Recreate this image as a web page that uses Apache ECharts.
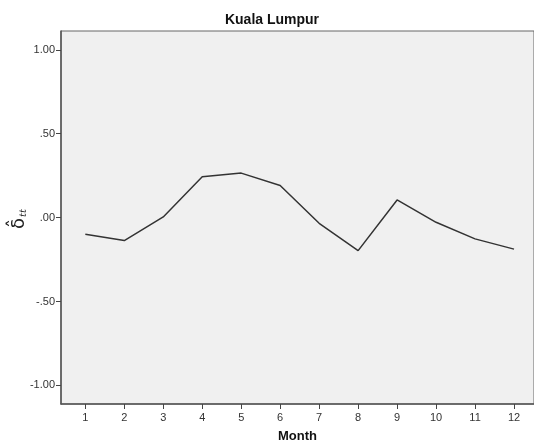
<!DOCTYPE html>
<html><head><meta charset="utf-8">
<script src="https://cdn.jsdelivr.net/npm/echarts@6/dist/echarts.min.js"></script>
<style>html,body{margin:0;padding:0;background:#fff}#c{width:534px;height:441px}</style>
</head><body><div id="c"></div>
<script>
const months = [1,2,3,4,5,6,7,8,9,10,11,12];
const values = [-0.099,-0.137,0.004,0.243,0.265,0.191,-0.034,-0.197,0.105,-0.028,-0.127,-0.188];
const yTicks = [-1, -0.5, 0, 0.5, 1];
const yTickLabels = {'-1':'-1.00','-0.5':'-.50','0':'.00','0.5':'.50','1':'1.00'};
const title = 'Kuala Lumpur';
const xName = 'Month';

const chart = echarts.init(document.getElementById('c'), null, {renderer:'canvas'});
chart.setOption({
  animation:false,
  backgroundColor:'#fff',
  title:{text:title,left:267,top:8,textAlign:'center',textStyle:{fontFamily:'Liberation Sans, Arial',fontSize:14,fontWeight:'bold',color:'#111'}},
  grid:{left:61,top:31,width:473,height:373,containLabel:false,outerBoundsMode:'none',show:true,backgroundColor:'#f0f0f0',borderColor:'#666',borderWidth:1},
  xAxis:{type:'value',min:0.376,max:12.513,
    name:xName,nameLocation:'middle',nameGap:26,
    nameTextStyle:{fontFamily:'Liberation Sans, Arial',fontSize:13,fontWeight:'bold',color:'#111'},
    axisLine:{show:true,onZero:false,lineStyle:{color:'#555',width:1.5}},
    axisTick:{show:true,length:5,inside:false,customValues:months,lineStyle:{color:'#444'}},
    axisLabel:{customValues:months,fontFamily:'Liberation Sans, Arial',fontSize:11,color:'#333',margin:8,formatter:v=>String(v)},
    splitLine:{show:false}},
  yAxis:{type:'value',min:-1.111,max:1.112,
    axisLine:{show:true,onZero:false,lineStyle:{color:'#555',width:1.5}},
    axisTick:{show:true,length:5,inside:false,customValues:yTicks,lineStyle:{color:'#444'}},
    axisLabel:{customValues:yTicks,fontFamily:'Liberation Sans, Arial',fontSize:11,color:'#333',margin:6,
      formatter:v=>yTickLabels[String(v)]},
    splitLine:{show:false}},
  graphic:[{type:'group',x:19,y:218,rotation:Math.PI/2,children:[
    {type:'text',x:0,y:0,style:{text:'δ̂',font:'18px DejaVu Sans',fill:'#222',align:'right',verticalAlign:'middle'}},
    {type:'text',x:1,y:4,style:{text:'tt',font:'italic 10px DejaVu Serif',fill:'#222',align:'left',verticalAlign:'middle'}}
  ]}],
  series:[{type:'line',data:months.map((m,i)=>[m,values[i]]),showSymbol:false,symbol:'none',
    lineStyle:{color:'#333',width:1.5}}]
});
</script></body></html>
